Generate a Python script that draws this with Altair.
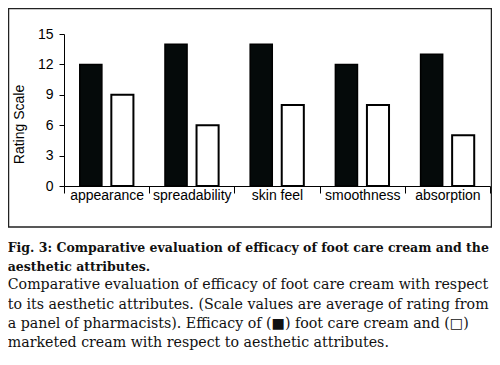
import altair as alt
import pandas as pd

categories = ["appearance", "spreadability", "skin feel", "smoothness", "absorption"]
series = ["foot care cream", "marketed cream"]
foot_care_cream = [12, 14, 14, 12, 13]
marketed_cream = [9, 6, 8, 8, 5]
y_ticks = [0, 3, 6, 9, 12, 15]

caption_bold = [
    "Fig. 3: Comparative evaluation of efficacy of foot care cream and the",
    "aesthetic attributes.",
]
caption_normal = [
    "Comparative evaluation of efficacy of foot care cream with respect",
    "to its aesthetic attributes. (Scale values are average of rating from",
    "a panel of pharmacists). Efficacy of (\u25a0) foot care cream and (\u25a1)",
    "marketed cream with respect to aesthetic attributes.",
]

rows = []
for c, a, b in zip(categories, foot_care_cream, marketed_cream):
    rows.append({"category": c, "series": series[0], "value": a})
    rows.append({"category": c, "series": series[1], "value": b})
df = pd.DataFrame(rows)

bars = alt.Chart(df).mark_bar(stroke="black").encode(
    x=alt.X("category:N", sort=categories,
            scale=alt.Scale(paddingInner=0, paddingOuter=0),
            axis=alt.Axis(title=None, labelAngle=0, tickBand="extent",
                          tickSize=7, labelPadding=-5)),
    xOffset=alt.XOffset("series:N", sort=series,
                        scale=alt.Scale(domain=series, paddingInner=0.3, paddingOuter=0.5)),
    y=alt.Y("value:Q", scale=alt.Scale(domain=[0, 15], nice=False),
            axis=alt.Axis(title="Rating Scale", values=y_ticks, tickSize=5,
                          labelPadding=6, titleX=-45, titleY=90,
                          titleAngle=-90, titleAlign="center", titleBaseline="middle")),
    fill=alt.Fill("series:N", scale=alt.Scale(domain=series, range=["#050a0a", "white"]), legend=None),
    strokeWidth=alt.StrokeWidth("series:N", scale=alt.Scale(domain=series, range=[1.5, 2]), legend=None),
)

frame = alt.Chart(pd.DataFrame({"k": [0]})).mark_rect(
    fill="transparent", stroke="#222222", strokeWidth=1.5
).encode(
    x=alt.value(-55.5), x2=alt.value(427.5), y=alt.value(-25.5), y2=alt.value(193)
)

chart = alt.layer(bars, frame).properties(
    width=426,
    height=152,
    autosize=alt.AutoSizeParams(type="none"),
    padding={"left": 56, "top": 26, "right": 2, "bottom": 171},
    title=alt.TitleParams(
        text=caption_bold,
        subtitle=caption_normal,
        orient="bottom",
        anchor="start",
        dx=0,
        offset=14,
        font="DejaVu Serif",
        fontSize=12.5,
        fontWeight="bold",
        color="#111111",
        lineHeight=19.2,
        subtitleFont="DejaVu Serif",
        subtitleFontSize=14.2,
        subtitleFontWeight="normal",
        subtitleColor="#111111",
        subtitleLineHeight=19.2,
        subtitlePadding=5,
    ),
).configure_view(stroke=None).configure_axis(
    labelFont="Liberation Sans", labelFontSize=14, labelColor="black",
    titleFont="Liberation Sans", titleFontSize=14, titleFontWeight="normal", titleColor="black",
    domainColor="black", tickColor="black", grid=False,
)

chart.save("out.html", embed_options={"renderer": "svg", "actions": False})
